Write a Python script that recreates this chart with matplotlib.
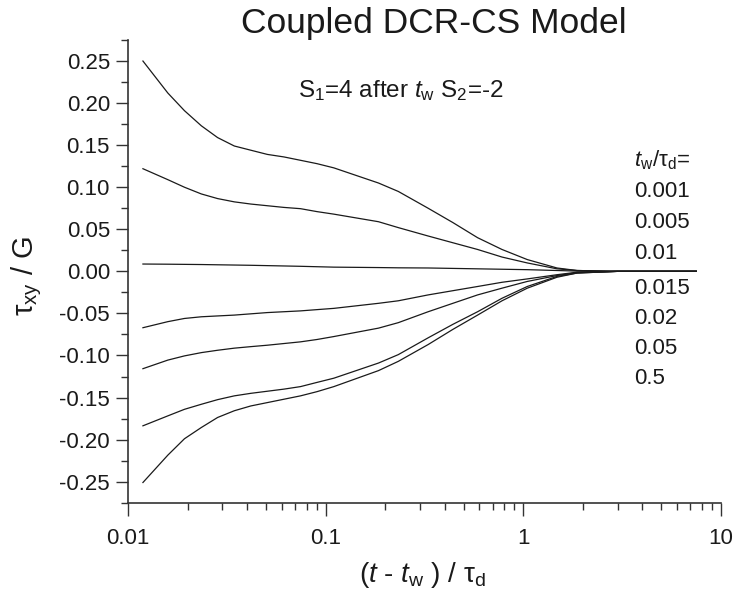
#!/usr/bin/env python3

import numpy as np
import matplotlib.pyplot as plt
from matplotlib.ticker import MultipleLocator, LogLocator, NullFormatter

plt.rcParams['font.family'] = ['Liberation Sans', 'DejaVu Sans']
plt.rcParams['mathtext.fontset'] = 'custom'
plt.rcParams['mathtext.rm'] = 'Liberation Sans'
plt.rcParams['mathtext.it'] = 'Liberation Sans:italic'

# Shared time grid (t - tw)/tau_d.
x = [0.0119, 0.0159, 0.0193, 0.0235, 0.0284, 0.0345, 0.0418, 0.0507, 0.0615,
     0.0746, 0.0904, 0.110, 0.185, 0.233, 0.33, 0.44, 0.587, 0.78,
     1.047, 1.48, 1.87, 3.0, 7.5]

# tau_xy / G for each curve, top to bottom.
c1 = [0.250, 0.212, 0.191, 0.173, 0.159, 0.149, 0.144, 0.139, 0.136, 0.132,
      0.128, 0.123, 0.105, 0.095, 0.075, 0.058, 0.040, 0.026, 0.014,
      0.004, 0.001, 0.0, 0.0]
c2 = [0.122, 0.109, 0.100, 0.092, 0.0865, 0.0826, 0.080, 0.078, 0.076, 0.0745,
      0.071, 0.068, 0.059, 0.052, 0.042, 0.034, 0.026, 0.017, 0.010,
      0.003, 0.001, 0.0, 0.0]
c3 = [0.0087, 0.0085, 0.0083, 0.0081, 0.0078, 0.0075, 0.0072, 0.0068, 0.0064,
      0.006, 0.0055, 0.005, 0.0045, 0.0042, 0.004, 0.0035, 0.003,
      0.0025, 0.002, 0.001, 0.0003, 0.0, 0.0]
c4 = [-0.067, -0.0598, -0.056, -0.054, -0.053, -0.052, -0.0505, -0.049,
      -0.048, -0.047, -0.0455, -0.044, -0.038, -0.035, -0.028, -0.023,
      -0.018, -0.013, -0.009, -0.004, -0.001, 0.0, 0.0]
c5 = [-0.1157, -0.1055, -0.1005, -0.0966, -0.0938, -0.0913, -0.0895, -0.0878,
      -0.0858, -0.0838, -0.081, -0.0775, -0.0675, -0.061, -0.048,
      -0.038, -0.028, -0.020, -0.012, -0.005, -0.0015, 0.0, 0.0]
c6 = [-0.1836, -0.1718, -0.164, -0.158, -0.1525, -0.148, -0.145, -0.1425,
      -0.140, -0.137, -0.132, -0.127, -0.109, -0.099, -0.079, -0.063,
      -0.048, -0.032, -0.018, -0.006, -0.002, 0.0, 0.0]
c7 = [-0.251, -0.2185, -0.199, -0.1856, -0.1737, -0.1657, -0.160, -0.156,
      -0.152, -0.148, -0.143, -0.137, -0.118, -0.107, -0.087, -0.069,
      -0.052, -0.035, -0.020, -0.007, -0.002, 0.0, 0.0]

tw_labels = ['0.001', '0.005', '0.01', '0.015', '0.02', '0.05', '0.5']
xticks = [0.01, 0.1, 1, 10]
xticklabels = ['0.01', '0.1', '1', '10']

W, H = 733, 601
fig = plt.figure(figsize=(W / 100, H / 100), dpi=100)
ax = fig.add_axes([128 / W, 1 - 502.7 / H, (721 - 128) / W, (502.7 - 40) / H])

for c in [c1, c2, c3, c4, c5, c6, c7]:
    ax.plot(x, c, color='#1a1a1a', lw=0.9)

ax.set_xscale('log')
ax.set_xlim(0.01, 10)
ax.set_ylim(-0.275, 0.275)
ax.set_xticks(xticks)
ax.set_xticklabels(xticklabels)
ax.xaxis.set_minor_locator(LogLocator(base=10, subs=np.arange(2, 10)))
ax.xaxis.set_minor_formatter(NullFormatter())
ax.yaxis.set_major_locator(MultipleLocator(0.05))
ax.yaxis.set_minor_locator(MultipleLocator(0.025))
ax.yaxis.set_major_formatter(plt.FuncFormatter(lambda v, p: '%.2f' % v))

for s in ['top', 'right']:
    ax.spines[s].set_visible(False)
for s in ['left', 'bottom']:
    ax.spines[s].set_color('#333333')
    ax.spines[s].set_linewidth(1.2)
ax.tick_params(which='major', length=9, width=1, color='#333333',
               labelsize=16, pad=4, labelcolor='#1a1a1a')
ax.tick_params(which='minor', length=5, width=1, color='#333333')
ax.tick_params(axis='x', which='major', pad=9)

fig.text(423 / W, 1 - 582 / H, '($t$ - $t_\\mathrm{w}$ ) / τ$_\\mathrm{d}$',
         fontsize=20, ha='center', va='baseline', color='#1a1a1a')
fig.text(27 / W, 1 - 276 / H, 'τ$_\\mathrm{xy}$ / G', fontsize=21,
         rotation=90, ha='center', va='center', color='#1a1a1a')

fig.text(434 / W, 1 - 33 / H, 'Coupled DCR-CS Model', fontsize=25.5,
         ha='center', va='baseline', color='#1a1a1a')
fig.text(298 / W, 1 - 97 / H, 'S$_1$=4 after $t_\\mathrm{w}$ S$_2$=-2',
         fontsize=17.5, ha='left', va='baseline', color='#1a1a1a')

fig.text(634 / W, 1 - 160 / H, '$t_\\mathrm{w}$/τ$_\\mathrm{d}$=',
         fontsize=16, ha='left', va='center', color='#1a1a1a')
ys = [192, 222, 253, 288, 319, 349, 378]
for lab, yp in zip(tw_labels, ys):
    fig.text(634 / W, 1 - yp / H, lab, fontsize=16, ha='left', va='center',
             color='#1a1a1a')

fig.savefig('out.png', dpi=100)
